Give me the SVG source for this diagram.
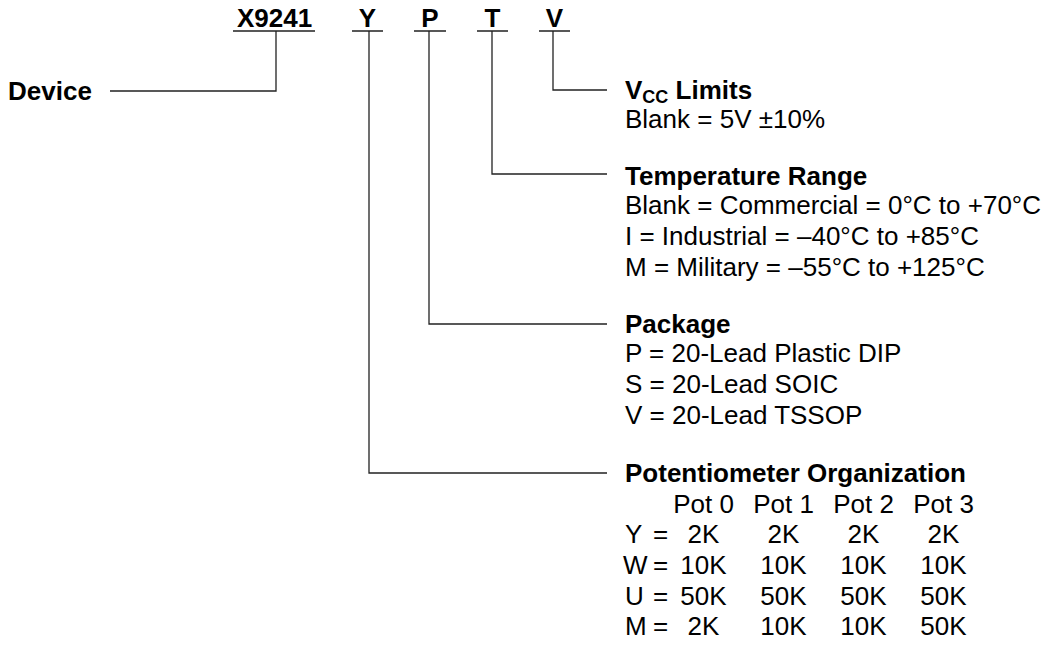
<svg xmlns="http://www.w3.org/2000/svg" width="1053" height="655" viewBox="0 0 1053 655">
<style>
text{font-family:"Liberation Sans",Arial,sans-serif;font-size:26px;fill:#000}
.b{font-weight:bold}
.m{text-anchor:middle}
.ln{fill:none;stroke:#222;stroke-width:1.3}
</style>
<rect width="1053" height="655" fill="#fff"/>
<g id="code">
<text class="b" x="237" y="27">X9241</text>
<text class="b m" x="367.5" y="27">Y</text>
<text class="b m" x="430" y="27">P</text>
<text class="b m" x="492.5" y="27">T</text>
<text class="b m" x="554.5" y="27">V</text>
</g>
<g id="device"><text class="b" x="8" y="100">Device</text></g>
<g id="connectors">
<path class="ln" d="M233 31H315M352 31H383M414 31H446M477 31H508M539 31H570"/>
<path class="ln" d="M110 91H276V31"/>
<path class="ln" d="M553 31V90H607"/>
<path class="ln" d="M492 31V174H607"/>
<path class="ln" d="M429 31V324H607"/>
<path class="ln" d="M369 31V473H607"/>
</g>
<g id="vcc">
<text class="b" x="625" y="99">V<tspan font-size="18" dy="4">CC</tspan><tspan dy="-4"> Limits</tspan></text>
<text x="625" y="128">Blank = 5V ±10%</text>
</g>
<g id="temp">
<text class="b" x="625" y="185">Temperature Range</text>
<text x="625" y="214">Blank = Commercial = 0°C to +70°C</text>
<text x="625" y="245">I = Industrial = –40°C to +85°C</text>
<text x="625" y="276">M = Military = –55°C to +125°C</text>
</g>
<g id="package">
<text class="b" x="625" y="333">Package</text>
<text x="625" y="362">P = 20-Lead Plastic DIP</text>
<text x="625" y="393">S = 20-Lead SOIC</text>
<text x="625" y="424">V = 20-Lead TSSOP</text>
</g>
<g id="pot">
<text class="b" x="625" y="482">Potentiometer Organization</text>
<text class="m" x="703.5" y="513">Pot 0</text>
<text class="m" x="783.5" y="513">Pot 1</text>
<text class="m" x="863.5" y="513">Pot 2</text>
<text class="m" x="943.5" y="513">Pot 3</text>
<text x="625" y="543">Y</text><text x="653" y="543">=</text>
<text class="m" x="703.5" y="543">2K</text><text class="m" x="783.5" y="543">2K</text><text class="m" x="863.5" y="543">2K</text><text class="m" x="943.5" y="543">2K</text>
<text x="623" y="574">W</text><text x="653" y="574">=</text>
<text class="m" x="703.5" y="574">10K</text><text class="m" x="783.5" y="574">10K</text><text class="m" x="863.5" y="574">10K</text><text class="m" x="943.5" y="574">10K</text>
<text x="625" y="605">U</text><text x="653" y="605">=</text>
<text class="m" x="703.5" y="605">50K</text><text class="m" x="783.5" y="605">50K</text><text class="m" x="863.5" y="605">50K</text><text class="m" x="943.5" y="605">50K</text>
<text x="625" y="635">M</text><text x="653" y="635">=</text>
<text class="m" x="703.5" y="635">2K</text><text class="m" x="783.5" y="635">10K</text><text class="m" x="863.5" y="635">10K</text><text class="m" x="943.5" y="635">50K</text>
</g>
</svg>
